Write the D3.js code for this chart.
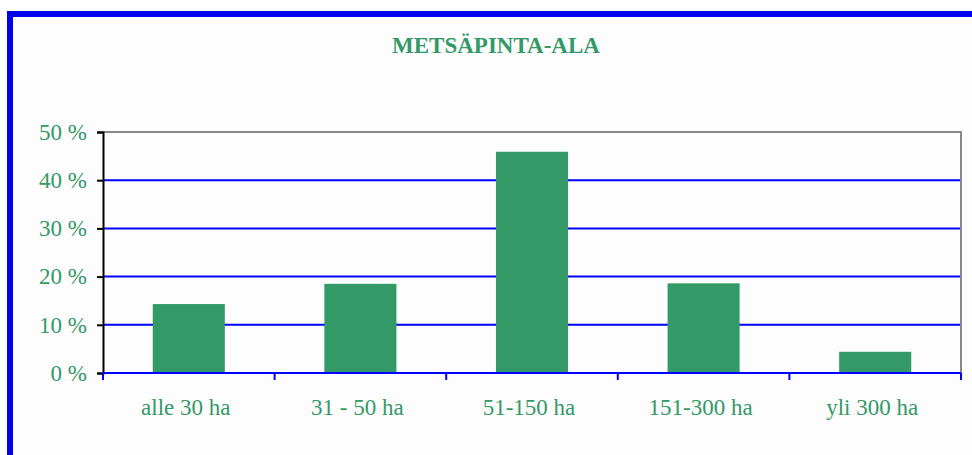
<!DOCTYPE html>
<html>
<head>
<meta charset="utf-8">
<script src="https://cdn.jsdelivr.net/npm/d3@7"></script>
<style>
  html, body { margin: 0; padding: 0; background: #ffffff; }
  svg { display: block; }
</style>
</head>
<body>
<svg id="chart" width="972" height="455"></svg>
<script>
const title = "METSÄPINTA-ALA";
const categories = ["alle 30 ha", "31 - 50 ha", "51-150 ha", "151-300 ha", "yli 300 ha"];
const values = [14.3, 18.5, 45.9, 18.6, 4.4];
const yTicks = [0, 10, 20, 30, 40, 50];

const green = "#339966";
const blue = "#0000ff";
const font = "'Liberation Serif', 'Times New Roman', serif";

const svg = d3.select("#chart");

// outer frame (blue border)
svg.append("rect")
  .attr("x", 10).attr("y", 14)
  .attr("width", 1000).attr("height", 500)
  .attr("fill", "#fdfdfd")
  .attr("stroke", "#0000ee")
  .attr("stroke-width", 6);

const pLeft = 103, pRight = 961, pTop = 132, pBottom = 373;

const x = d3.scaleBand()
  .domain(categories)
  .range([pLeft, pRight])
  .paddingInner(0.58)
  .paddingOuter(0.29);

const xb = d3.scaleBand().domain(categories).range([pLeft, pRight]);

const y = d3.scaleLinear().domain([0, 50]).range([pBottom, pTop]);

// title
svg.append("text")
  .attr("x", 496)
  .attr("y", 53)
  .attr("text-anchor", "middle")
  .attr("font-family", font)
  .attr("font-weight", "bold")
  .attr("font-size", 23)
  .attr("fill", green)
  .text(title);

// gridlines
svg.append("g")
  .selectAll("line")
  .data(yTicks.filter(t => t > 0 && t < 50))
  .join("line")
  .attr("x1", pLeft).attr("x2", pRight)
  .attr("y1", d => y(d)).attr("y2", d => y(d))
  .attr("stroke", blue)
  .attr("stroke-width", 2);

// plot border top & right (gray)
svg.append("path")
  .attr("d", `M${pLeft},${y(50)}H${pRight}V${y(0)}`)
  .attr("fill", "none")
  .attr("stroke", "#888888")
  .attr("stroke-width", 2);

// bars
svg.append("g")
  .selectAll("rect")
  .data(values)
  .join("rect")
  .attr("x", (d, i) => x(categories[i]))
  .attr("width", x.bandwidth())
  .attr("y", d => y(d))
  .attr("height", d => y(0) - y(d))
  .attr("fill", green);

// y axis
const yAxis = d3.axisLeft(y)
  .tickValues(yTicks)
  .tickSize(6)
  .tickPadding(10)
  .tickFormat(d => d + " %");
const gy = svg.append("g")
  .attr("transform", `translate(${pLeft},0)`)
  .call(yAxis);
gy.select(".domain").attr("stroke", "#000").attr("stroke-width", 2);
gy.selectAll(".tick line").attr("stroke", "#000").attr("stroke-width", 2);
gy.selectAll(".tick text")
  .attr("font-family", font)
  .attr("font-size", 23)
  .attr("fill", green);

// x axis
const gx = svg.append("g")
  .attr("transform", `translate(0,${pBottom})`);
gx.append("line")
  .attr("x1", pLeft).attr("x2", pRight)
  .attr("y1", 0).attr("y2", 0)
  .attr("stroke", blue).attr("stroke-width", 2);
const boundaries = categories.map(c => xb(c)).concat([pRight]);
gx.selectAll("line.tk")
  .data(boundaries)
  .join("line")
  .attr("class", "tk")
  .attr("x1", d => d).attr("x2", d => d)
  .attr("y1", 0).attr("y2", 7)
  .attr("stroke", blue).attr("stroke-width", 2);
gx.selectAll("text.lbl")
  .data(categories)
  .join("text")
  .attr("class", "lbl")
  .attr("x", d => xb(d) + xb.bandwidth() / 2 - 3)
  .attr("y", 42)
  .attr("text-anchor", "middle")
  .attr("font-family", font)
  .attr("font-size", 23)
  .attr("fill", green)
  .text(d => d);
</script>
</body>
</html>
